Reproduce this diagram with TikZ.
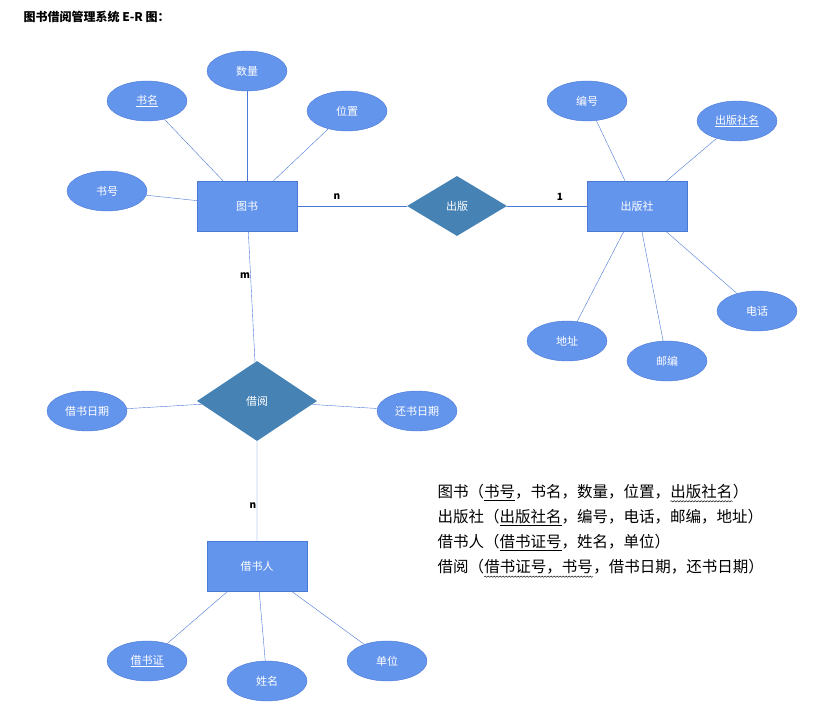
\documentclass[tikz,border=0pt]{standalone}
\usepackage{fontspec}
\setmainfont{Noto Sans CJK SC}
\usetikzlibrary{shapes.geometric,decorations.pathmorphing}
\definecolor{attrfill}{HTML}{6495ED}
\definecolor{attrdraw}{HTML}{4A78D6}
\definecolor{relfill}{HTML}{4682B4}
\newcommand{\ulbox}[1]{\underline{#1}}
\newcommand{\wavebox}[1]{\tikz[baseline=(w.base)]{\node[inner sep=0pt] (w) {#1};
  \draw[decorate,decoration={snake,amplitude=.7pt,segment length=3pt}] ([yshift=-2pt]w.south west) -- ([yshift=-2pt]w.south east);}}
\tikzset{
  entity/.style={
    rectangle,
    minimum width=100pt,
    minimum height=50pt,
    fill=attrfill,
    draw=attrdraw,
    text=white,
    font=\fontsize{11}{13}\selectfont
  },
  attr/.style={
    ellipse,
    minimum width=80pt,
    minimum height=40pt,
    inner sep=0pt,
    fill=attrfill,
    draw=attrdraw,
    text=white,
    font=\fontsize{11}{13}\selectfont
  },
  rel/.style={
    diamond,
    inner sep=0pt,
    fill=relfill,
    text=white,
    font=\fontsize{11}{13}\selectfont
  },
  link/.style={draw=attrdraw},
  card/.style={font=\fontsize{10}{12}\selectfont\bfseries}
}
\begin{document}
\begin{tikzpicture}[x=1pt,y=-1pt]
    \useasboundingbox (0,0) rectangle (824,708);
    \node[anchor=west,font=\fontsize{12}{14}\selectfont\bfseries] (title) at (20,17) {图书借阅管理系统 E-R 图：};
    % entities and relations
    \node[entity] (book) at (247,206) {图书};
    \node[entity] (press) at (637,206) {出版社};
    \node[entity] (reader) at (257,566) {借书人};
    \node[rel,minimum width=100pt,minimum height=60pt] (publish) at (457,206) {出版};
    \node[rel,minimum width=120pt,minimum height=80pt] (borrow) at (257,401) {借阅};
    % attributes
    \node[attr] (bname) at (147,101) {\ulbox{书名}};
    \node[attr] (bcount) at (247,71) {数量};
    \node[attr] (bplace) at (347,111) {位置};
    \node[attr] (bno) at (107,191) {书号};
    \node[attr] (pno) at (587,101) {编号};
    \node[attr] (pname) at (737,121) {\ulbox{出版社名}};
    \node[attr] (ptel) at (757,311) {电话};
    \node[attr] (pzip) at (667,361) {邮编};
    \node[attr] (paddr) at (567,341) {地址};
    \node[attr] (bdate) at (87,411) {借书日期};
    \node[attr] (rdate) at (417,411) {还书日期};
    \node[attr] (rcard) at (147,661) {\ulbox{借书证}};
    \node[attr] (rname) at (267,681) {姓名};
    \node[attr] (runit) at (387,661) {单位};
    \foreach \a in {bname,bcount,bplace,bno} \draw[link] (\a) -- (book);
    \foreach \a in {pno,pname,ptel,pzip,paddr} \draw[link] (\a) -- (press);
    \foreach \a in {bdate,rdate} \draw[link] (\a) -- (borrow);
    \foreach \a in {rcard,rname,runit} \draw[link] (\a) -- (reader);
    \draw[link] (book) -- (publish) -- (press);
    \draw[link] (book) -- (borrow) -- (reader);
    \node[card] (c1) at (337,197) {n};
    \node[card] (c2) at (560,197) {1};
    \node[card] (c3) at (245,276) {m};
    \node[card] (c4) at (253,506) {n};
    % relation schemas
    \node[anchor=north west,align=left,font=\fontsize{15.5}{25}\selectfont] (schema) at (434,481) {%
      图书（\ulbox{书号}，书名，数量，位置，\wavebox{出版社名}）\\
      出版社（\ulbox{出版社名}，编号，电话，邮编，地址）\\
      借书人（\ulbox{借书证号}，姓名，单位）\\
      借阅（\wavebox{借书证号，书号}，借书日期，还书日期）};
\end{tikzpicture}
\end{document}
